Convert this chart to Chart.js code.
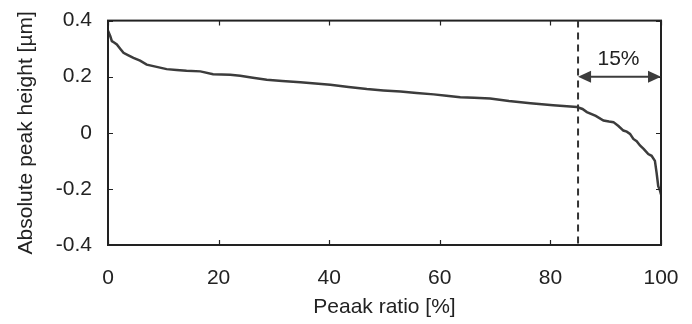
<!DOCTYPE html>
<html>
<head>
<meta charset="utf-8">
<script src="https://cdn.jsdelivr.net/npm/chart.js@4.4.0/dist/chart.umd.min.js"></script>
<style>
  html, body { margin: 0; padding: 0; background: #fff; }
  #wrap { width: 692px; height: 324px; }
</style>
</head>
<body>
<div id="wrap"><canvas id="chartPeak"></canvas></div>
<script>
// peak ratio [%] and absolute peak height [um]
const peakRatio = [0, 0.4, 0.7, 1.1, 1.6, 2.2, 2.8, 3.6, 4.6, 5.8, 7, 8.6, 10.6, 12.4, 14.2, 16.7, 19, 22.1, 23.9, 26.2, 28.7, 31.5, 34.8, 37.5, 40.2, 43.5, 46.8, 49.8, 52.9, 55.8, 58.9, 61.2, 63.7, 66.2, 69.1, 72.5, 76.4, 80.5, 84.8, 85.8, 86.6, 88.2, 89.6, 90.6, 91.4, 92.3, 93.2, 93.8, 94.4, 95, 95.6, 96.2, 96.9, 97.7, 98.3, 98.9, 99.2, 99.5, 99.8, 100];
const peakHeight = [0.364, 0.345, 0.327, 0.322, 0.315, 0.3, 0.285, 0.277, 0.267, 0.257, 0.243, 0.236, 0.227, 0.224, 0.221, 0.219, 0.209, 0.207, 0.203, 0.196, 0.189, 0.185, 0.18, 0.176, 0.171, 0.163, 0.156, 0.151, 0.147, 0.142, 0.137, 0.132, 0.127, 0.125, 0.122, 0.113, 0.105, 0.098, 0.092, 0.085, 0.074, 0.06, 0.044, 0.04, 0.038, 0.024, 0.008, 0.004, -0.004, -0.022, -0.03, -0.045, -0.058, -0.076, -0.082, -0.1, -0.142, -0.19, -0.205, -0.22];

const xTicks = [0, 20, 40, 60, 80, 100];
const yTicks = [-0.4, -0.2, 0, 0.2, 0.4];

// annotation: dashed cut at 85 %, arrow to 100 % labelled 15%
const cutRatio = 85;
const arrowEnd = 100;
const arrowHeight = 0.2;
const arrowLabel = '15%';

const ink = '#3c3c3c';
const fontFamily = '"Liberation Sans", Arial, sans-serif';

const framePlugin = {
    id: 'frame',
    afterDraw(chart) {
        const c = chart.ctx;
        const a = chart.chartArea;
        const xs = chart.scales.x, ys = chart.scales.y;
        c.save();
        // box
        c.strokeStyle = '#222';
        c.lineWidth = 2;
        c.strokeRect(a.left, a.top, a.right - a.left, a.bottom - a.top);
        // inner ticks
        c.lineWidth = 1.2;
        c.beginPath();
        xTicks.forEach(v => {
            const px = Math.round(xs.getPixelForValue(v)) + 0.5;
            c.moveTo(px, a.bottom); c.lineTo(px, a.bottom - 5);
            c.moveTo(px, a.top); c.lineTo(px, a.top + 5);
        });
        yTicks.forEach(v => {
            const py = Math.round(ys.getPixelForValue(v)) + 0.5;
            c.moveTo(a.left, py); c.lineTo(a.left + 5, py);
            c.moveTo(a.right, py); c.lineTo(a.right - 5, py);
        });
        c.stroke();

        // dashed cut line
        const cx = xs.getPixelForValue(cutRatio);
        c.strokeStyle = '#333';
        c.lineWidth = 2;
        c.setLineDash([7, 5]);
        c.beginPath();
        c.moveTo(cx, a.top);
        c.lineTo(cx, a.bottom);
        c.stroke();
        c.setLineDash([]);

        // double arrow
        const ex = xs.getPixelForValue(arrowEnd);
        const ay = ys.getPixelForValue(arrowHeight);
        const head = 13, half = 6;
        c.strokeStyle = ink;
        c.fillStyle = ink;
        c.lineWidth = 2;
        c.beginPath();
        c.moveTo(cx + head - 1, ay);
        c.lineTo(ex - head + 1, ay);
        c.stroke();
        c.beginPath();
        c.moveTo(cx, ay); c.lineTo(cx + head, ay - half); c.lineTo(cx + head, ay + half); c.closePath();
        c.fill();
        c.beginPath();
        c.moveTo(ex, ay); c.lineTo(ex - head, ay - half); c.lineTo(ex - head, ay + half); c.closePath();
        c.fill();

        c.fillStyle = '#222';
        c.font = '21px ' + fontFamily;
        c.textAlign = 'center';
        c.textBaseline = 'middle';
        c.fillText(arrowLabel, (cx + ex) / 2 - 1, ay - 17);
        c.restore();
    }
};

const ctxPeak = document.getElementById('chartPeak');
const chartPeak = new Chart(ctxPeak, {
    type: 'line',
    data: {
        datasets: [{
            data: peakRatio.map((x, i) => ({ x: x, y: peakHeight[i] })),
            borderColor: ink,
            borderWidth: 2.5,
            pointRadius: 0,
            tension: 0,
            fill: false
        }]
    },
    options: {
        responsive: true,
        maintainAspectRatio: false,
        animation: false,
        events: [],
        layout: { padding: { top: 16, right: 31, left: 0, bottom: 0 } },
        plugins: {
            legend: { display: false },
            tooltip: { enabled: false }
        },
        scales: {
            x: {
                type: 'linear',
                min: 0,
                max: 100,
                afterBuildTicks: s => { s.ticks = xTicks.map(v => ({ value: v })); },
                afterFit: s => { s.height = 79; },
                grid: { display: false },
                border: { display: false },
                ticks: {
                    color: '#222',
                    padding: 13,
                    font: { family: fontFamily, size: 21 },
                    callback: v => String(v)
                },
                title: {
                    display: true,
                    text: 'Peaak ratio [%]',
                    color: '#222',
                    font: { family: fontFamily, size: 21 },
                    padding: { top: 2 }
                }
            },
            y: {
                min: -0.4,
                max: 0.4,
                afterBuildTicks: s => { s.ticks = yTicks.map(v => ({ value: v })); },
                afterFit: s => { s.width = 108; },
                grid: { display: false },
                border: { display: false },
                ticks: {
                    color: '#222',
                    padding: 8,
                    font: { family: fontFamily, size: 21 },
                    callback: v => (Math.abs(v) < 1e-9 ? '0' : v.toFixed(1))
                },
                title: {
                    display: true,
                    text: 'Absolute peak height [µm]',
                    color: '#222',
                    font: { family: fontFamily, size: 21 },
                    padding: { top: 14, bottom: 4 }
                }
            }
        }
    },
    plugins: [framePlugin]
});
</script>
</body>
</html>
